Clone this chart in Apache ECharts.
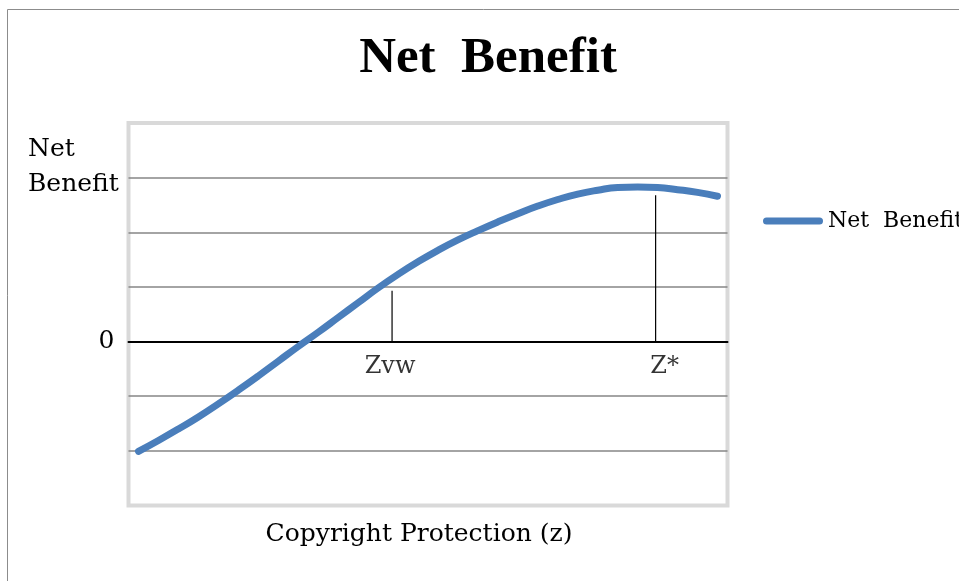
<!DOCTYPE html>
<html>
<head>
<meta charset="utf-8">
<script src="https://cdn.jsdelivr.net/npm/echarts@6/dist/echarts.min.js"></script>
<style>
  html, body { margin: 0; padding: 0; background: #fff; }
  #chart { width: 959px; height: 581px; }
</style>
</head>
<body>
<div id="chart"></div>
<script>
// copyright protection level (x) and the net benefit
const zPoints = [0.5, 1.5, 2.5, 3.5, 4.5, 5.5, 6.5, 7.5, 8.5, 9.5, 10.5, 11.5, 12.5, 13.5, 14.5,
  15.5, 16.5, 17.5, 18.5, 19.5, 20.5, 21.5, 22.5, 23.5, 24.5, 25.5, 26.5, 27.5, 28.5, 29.5]
const netBenefit = [-2.01, -1.81, -1.60, -1.38, -1.14, -0.89, -0.63, -0.36, -0.09, 0.17, 0.44, 0.71,
  0.98, 1.23, 1.46, 1.67, 1.86, 2.03, 2.19, 2.34, 2.48, 2.60, 2.70, 2.77, 2.82, 2.83, 2.82, 2.78, 2.73, 2.66]

// the two marked protection levels
const markerNames = ['Zvw', 'Z*']
const markerZ = [13.2, 26.4]
const markerTop = [0.93, 2.68]

const seriesName = 'Net  Benefit'
const blue = '#4a7ebb'
const serif = '"DejaVu Serif", serif'

const chart = echarts.init(document.getElementById('chart'))

chart.setOption({
  animation: false,
  title: [
    {
      text: 'Net  Benefit',
      left: 488,
      top: 34,
      textAlign: 'center',
      padding: 0,
      textStyle: { fontFamily: '"Liberation Serif", serif', fontWeight: 'bold', fontSize: 51, lineHeight: 50, color: '#000' },
    },
    {
      text: 'Net\nBenefit',
      left: 28,
      top: 132,
      padding: 0,
      textStyle: { fontFamily: serif, fontWeight: 'normal', fontSize: 25, lineHeight: 35, color: '#000' },
    },
    {
      text: 'Copyright Protection (z)',
      left: 419,
      top: 519,
      textAlign: 'center',
      padding: 0,
      textStyle: { fontFamily: serif, fontWeight: 'normal', fontSize: 25, lineHeight: 30, color: '#000' },
    },
  ],
  legend: {
    data: [{
      name: seriesName,
      icon: 'path://M3.5,0 H56.5 A3.5,3.5 0 0 1 56.5,7 H3.5 A3.5,3.5 0 0 1 3.5,0 Z',
    }],
    left: 763,
    top: 210,
    padding: 0,
    itemWidth: 60,
    itemHeight: 7,
    textStyle: { fontFamily: serif, fontSize: 22, color: '#000' },
  },
  graphic: [{
    type: 'rect',
    silent: true,
    shape: { x: 7.5, y: 9.5, width: 1000, height: 620 },
    style: { fill: 'none', stroke: '#8c8c8c', lineWidth: 1 },
  }],
  grid: {
    left: 128.5,
    right: 231.5,
    top: 123,
    bottom: 75.5,
    show: true,
    borderColor: '#d9d9d9',
    borderWidth: 4,
  },
  xAxis: {
    type: 'value',
    min: 0,
    max: 30,
    axisLine: { onZero: true, lineStyle: { color: '#000', width: 2 } },
    axisTick: { show: false },
    axisLabel: { show: false },
    splitLine: { show: false },
  },
  yAxis: {
    type: 'value',
    min: -3,
    max: 4,
    interval: 1,
    axisLine: { show: false },
    axisTick: { show: false },
    axisLabel: {
      formatter: v => (v === 0 ? '0' : ''),
      margin: 14,
      fontFamily: serif,
      fontSize: 25,
      color: '#000',
    },
    splitLine: {
      showMinLine: false,
      showMaxLine: false,
      lineStyle: { color: '#868686', width: 1.5 },
    },
  },
  series: [
    {
      name: seriesName,
      type: 'line',
      smooth: true,
      symbol: 'none',
      lineStyle: { color: blue, width: 7, cap: 'round' },
      itemStyle: { color: blue },
      z: 4,
      data: zPoints.map((z, i) => [z, netBenefit[i]]),
    },
    ...markerNames.map((n, i) => ({
      name: n,
      type: 'line',
      symbol: 'none',
      silent: true,
      lineStyle: { color: '#000', width: 1.2 },
      z: 3,
      data: [[markerZ[i], 0], [markerZ[i], markerTop[i]]],
    })),
    {
      name: 'markers',
      type: 'scatter',
      symbolSize: 0,
      silent: true,
      label: {
        show: true,
        position: 'bottom',
        distance: 13,
        formatter: p => p.name,
        fontFamily: serif,
        fontSize: 24,
        color: '#000',
        textBorderWidth: 0,
      },
      data: markerNames.map((n, i) => ({
        name: n,
        value: [markerZ[i], 0],
        label: { offset: [i === 1 ? 9 : -2, 0] },
      })),
    },
  ],
})
</script>
</body>
</html>
